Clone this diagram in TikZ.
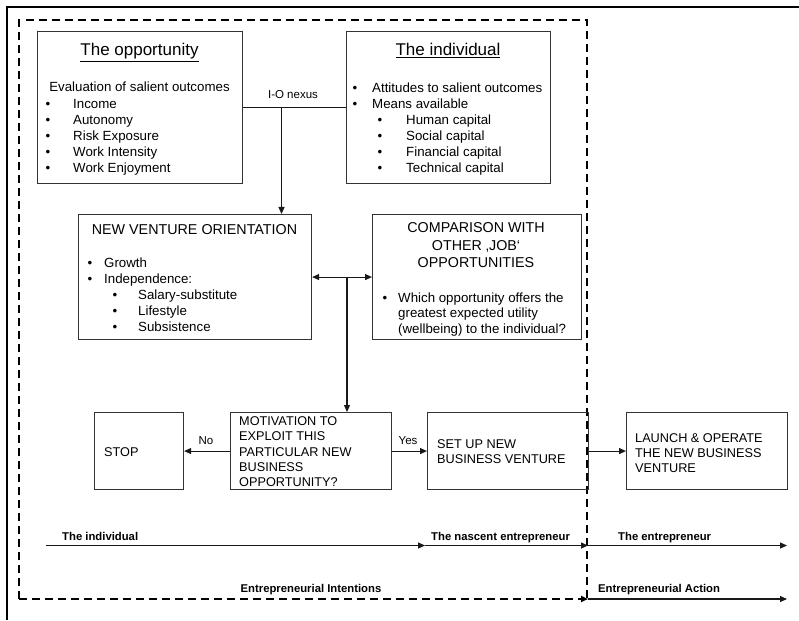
\documentclass[tikz,border=0pt]{standalone}
\usepackage{fontspec}
\setmainfont{Liberation Sans}
\usetikzlibrary{arrows.meta}
\begin{document}
\begin{tikzpicture}[x=1pt,y=-1pt,
  box/.style={draw=black!80, line width=1.1pt, inner sep=0pt, anchor=north west},
  conn/.style={draw=black!90, line width=1.1pt},
  tip/.style={-{Triangle[length=7pt,width=6pt]}},
  dashline/.style={line width=2pt, dash pattern=on 8pt off 5pt},
  bodytxt/.style={inner sep=0pt, anchor=base west, font=\fontsize{13.3}{16}\selectfont},
  titletxt/.style={inner sep=0pt, anchor=base, font=\fontsize{14.3}{17}\selectfont},
  captxt/.style={inner sep=0pt, anchor=base west, font=\fontsize{12.7}{15}\selectfont},
  smalltxt/.style={inner sep=0pt, anchor=base, font=\fontsize{11.5}{13}\selectfont},
  phase/.style={inner sep=0pt, anchor=base west, font=\fontsize{11.3}{13}\bfseries\selectfont},
  bul/.style={inner sep=0pt, anchor=base, font=\fontsize{13.3}{16}\selectfont}
]
\useasboundingbox (0,0) rectangle (799,620);

% frame
\draw[line width=1.1pt] (799,7) -- (7,7) -- (7,620);

% dashed boundary of the intention phase
\draw[dashline] (19,599) -- (19,20.5) -- (587,20.5) -- (587,599);

% boxes
\node[box, minimum width=205pt, minimum height=152pt] (opp) at (37,31) {};
\node[box, minimum width=204pt, minimum height=152pt] (ind) at (346,31) {};
\node[box, minimum width=233pt, minimum height=125pt] (nvo) at (78,214) {};
\node[box, minimum width=209pt, minimum height=125pt] (comp) at (372,214) {};
\node[box, minimum width=89pt, minimum height=77pt] (stop) at (94,412) {};
\node[box, minimum width=161pt, minimum height=77pt] (mot) at (230,412) {};
\node[box, minimum width=161pt, minimum height=77pt] (setup) at (427,412) {};
\node[box, minimum width=161pt, minimum height=77pt] (launch) at (626,412) {};

% the opportunity
\node[inner sep=0pt, anchor=base, font=\fontsize{17}{20}\selectfont] (oppT) at (139.5,56) {\underline{The opportunity}};
\node[bodytxt, anchor=base] (oppE) at (139.5,92) {Evaluation of salient outcomes};
\foreach \t [count=\i] in {Income, Autonomy, Risk Exposure, Work Intensity, Work Enjoyment}{
  \node[bul] (oppB\i) at (48,92.5+16*\i) {•};
  \node[bodytxt] (oppI\i) at (73,92.5+16*\i) {\t};
}

% the individual
\node[inner sep=0pt, anchor=base, font=\fontsize{17}{20}\selectfont] (indT) at (448,56) {\underline{The individual}};
\node[bul] (indB1) at (355,92.5) {•};
\node[bodytxt] (indI1) at (372,92.5) {Attitudes to salient outcomes};
\node[bul] (indB2) at (355,108.5) {•};
\node[bodytxt] (indI2) at (372,108.5) {Means available};
\foreach \t [count=\i] in {Human capital, Social capital, Financial capital, Technical capital}{
  \node[bul] (indS\i) at (380,108.5+16*\i) {•};
  \node[bodytxt] (indJ\i) at (406,108.5+16*\i) {\t};
}

% new venture orientation
\node[titletxt] (nvoT) at (194.5,234) {NEW VENTURE ORIENTATION};
\node[bul] (nvoB1) at (90,267) {•};
\node[bodytxt] (nvoI1) at (104,267) {Growth};
\node[bul] (nvoB2) at (90,283.5) {•};
\node[bodytxt] (nvoI2) at (104,283.5) {Independence:};
\foreach \t [count=\i] in {Salary-substitute, Lifestyle, Subsistence}{
  \node[bul] (nvoS\i) at (115,283.5+16*\i) {•};
  \node[bodytxt] (nvoJ\i) at (138,283.5+16*\i) {\t};
}

% comparison with other jobs
\node[titletxt] (compT1) at (476,233) {COMPARISON WITH};
\node[titletxt] (compT2) at (476,250) {OTHER ‚JOB‘};
\node[titletxt] (compT3) at (476,267) {OPPORTUNITIES};
\node[bul] (compB) at (385,302) {•};
\foreach \t [count=\i] in {Which opportunity offers the, greatest expected utility, (wellbeing) to the individual?}{
  \node[bodytxt] (compI\i) at (398,286.5+15.5*\i) {\t};
}

% lower row texts
\node[captxt] (stopT) at (104,456) {STOP};
\foreach \t [count=\i] in {MOTIVATION TO, EXPLOIT THIS, PARTICULAR NEW, BUSINESS, OPPORTUNITY?}{
  \node[captxt] (motT\i) at (239,410.5+15.2*\i) {\t};
}
\node[captxt] (setT1) at (437,448) {SET UP NEW};
\node[captxt] (setT2) at (437,463.5) {BUSINESS VENTURE};
\node[captxt] (lauT1) at (635,442) {LAUNCH \& OPERATE};
\node[captxt] (lauT2) at (635,457) {THE NEW BUSINESS};
\node[captxt] (lauT3) at (635,472) {VENTURE};

% connectors
\draw[conn] (opp.east) -- (ind.west);
\node[smalltxt] (nexus) at (293,99) {I-O nexus};
\coordinate (nex) at (281.5,107);
\draw[conn, tip] (nex) -- (nex |- nvo.north);
\draw[conn, {Triangle[length=7pt,width=6pt]}-{Triangle[length=7pt,width=6pt]}] (nvo.east) -- (comp.west);
\coordinate (join) at (347,276.5);
\draw[conn, tip] (join) -- (join |- mot.north);
\draw[conn, tip] (mot.west) -- (stop.east);
\node[smalltxt] (no) at (206,444) {No};
\draw[conn, tip] (mot.east) -- (setup.west);
\node[smalltxt] (yes) at (408,444) {Yes};
\draw[conn, tip] (setup.east) -- (launch.west);

% phases of the entrepreneur
\coordinate (p0) at (46,545.5);
\coordinate (p1) at (425,545.5);
\coordinate (p2) at (588,545.5);
\coordinate (p3) at (787,545.5);
\draw[conn, tip] (p0) -- (p1);
\draw[conn, tip] (p1) -- (p2);
\draw[conn, tip] (p2) -- (p3);
\node[phase] (ph1) at (62,540) {The individual};
\node[phase] (ph2) at (431,540) {The nascent entrepreneur};
\node[phase] (ph3) at (618,540) {The entrepreneur};

% intention and action
\coordinate (q0) at (19,599);
\coordinate (q1) at (588,599);
\coordinate (q2) at (787,599);
\draw[dashline, -{Triangle[length=7pt,width=6pt]}] (q0) -- (q1);
\draw[conn, tip] (q1) -- (q2);
\node[phase, anchor=base] (ei) at (311,592) {Entrepreneurial Intentions};
\node[phase] (ea) at (598,592) {Entrepreneurial Action};
\end{tikzpicture}
\end{document}
